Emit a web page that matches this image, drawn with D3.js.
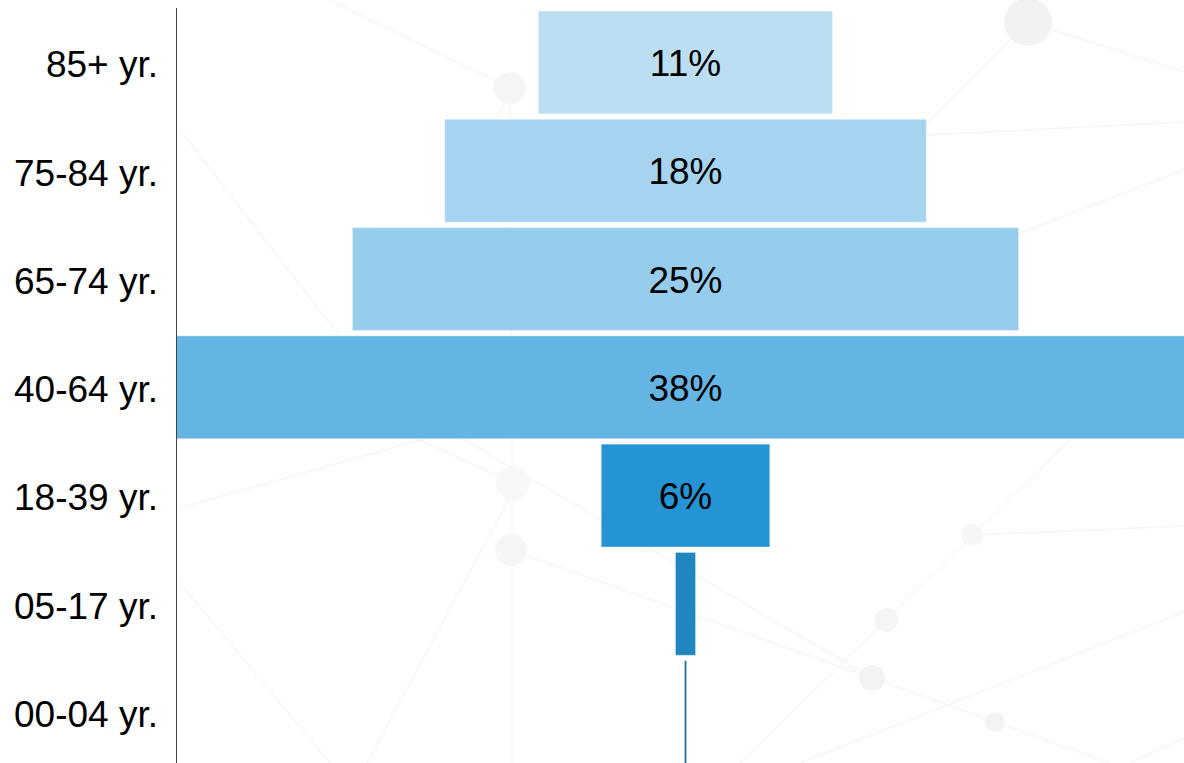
<!DOCTYPE html>
<html>
<head>
<meta charset="utf-8">
<script src="https://cdn.jsdelivr.net/npm/d3@7"></script>
<style>
  html, body { margin: 0; padding: 0; background: #fff; }
  svg { display: block; font-family: "Liberation Sans", Arial, sans-serif; }
</style>
</head>
<body>
<div id="chart"></div>
<script>
// age groups, top to bottom
var ageGroups = ["85+ yr.", "75-84 yr.", "65-74 yr.", "40-64 yr.", "18-39 yr.", "05-17 yr.", "00-04 yr."];
// share of each group in percent
var shares = [11.0, 18.0, 24.9, 38.05, 6.3, 0.75, 0.08];
var barColors = ["#bcdef3", "#a6d4f0", "#97cdec", "#64b5e4", "#2494d4", "#1f86bf", "#1b6c9c"];

var width = 1184,
    height = 763,
    axisX = 176,
    centerX = 685.5;

var data = ageGroups.map(function(g, i) {
  return { group: g, value: shares[i], color: barColors[i] };
});

var svg = d3.select("#chart").append("svg")
  .attr("width", width)
  .attr("height", height);

/*
 * Faint network pattern in the background (decoration only).
 */
var bgNodes = [[1028, 22, 24, "#f2f2f2"], [510, 88, 16, "#f5f5f5"], [513, 483, 17, "#f8f8f8"],
  [511, 550, 16, "#f6f6f6"], [972, 535, 11, "#f6f6f6"], [886, 620, 12, "#f5f5f5"],
  [872, 678, 13, "#f3f3f3"], [995, 722, 10, "#f3f3f3"]];
var bgLines = [[330, 0, 510, 88], [1028, 22, 1184, 72], [1028, 22, 860, 190],
  [927, 135, 1184, 122], [1018, 234, 1184, 170], [180, 130, 420, 440],
  [180, 583, 330, 763], [180, 508, 420, 440], [420, 440, 513, 483],
  [511, 550, 872, 678], [430, 420, 872, 678], [512, 440, 512, 763],
  [510, 497, 367, 763], [1070, 440, 740, 763], [972, 535, 1184, 526],
  [1184, 612, 800, 763], [872, 678, 995, 722], [995, 722, 1110, 763],
  [1184, 738, 1130, 763], [510, 88, 480, 160], [510, 88, 512, 440]];

var bg = svg.append("g").attr("class", "background");
bg.selectAll("line")
  .data(bgLines)
  .enter().append("line")
  .attr("x1", function(d) { return d[0]; })
  .attr("y1", function(d) { return d[1]; })
  .attr("x2", function(d) { return d[2]; })
  .attr("y2", function(d) { return d[3]; })
  .attr("stroke", "#f6f6f6")
  .attr("stroke-width", 1.5);
bg.selectAll("circle")
  .data(bgNodes)
  .enter().append("circle")
  .attr("cx", function(d) { return d[0]; })
  .attr("cy", function(d) { return d[1]; })
  .attr("r", function(d) { return d[2]; })
  .attr("fill", function(d) { return d[3]; });

/*
 * Scales.
 */
var y = d3.scaleBand()
  .domain(ageGroups)
  .range([5.6, 769])
  .padding(0.05);

var x = d3.scaleLinear()
  .domain([0, 38.05])
  .range([0, 1018]);

/*
 * Bars, centred on one vertical line.
 */
var bars = svg.append("g").attr("class", "bars");
bars.selectAll("rect")
  .data(data)
  .enter().append("rect")
  .attr("x", function(d) { return centerX - x(d.value) / 2; })
  .attr("y", function(d) { return y(d.group); })
  .attr("width", function(d) { return Math.max(x(d.value), 2); })
  .attr("height", y.bandwidth())
  .attr("fill", function(d) { return d.color; })
  .attr("stroke", "#ffffff")
  .attr("stroke-opacity", 0.35)
  .attr("stroke-width", 1);

bars.selectAll("text")
  .data(data.filter(function(d) { return d.value >= 5; }))
  .enter().append("text")
  .attr("x", centerX)
  .attr("y", function(d) { return y(d.group) + y.bandwidth() / 2; })
  .attr("dy", "0.37em")
  .attr("text-anchor", "middle")
  .attr("font-size", 37)
  .attr("fill", "#000")
  .text(function(d) { return d3.format(".0f")(d.value) + "%"; });

/*
 * Category axis on the left.
 */
var axis = svg.append("g")
  .attr("transform", "translate(" + axisX + ",0)")
  .call(d3.axisLeft(y).tickSize(0).tickPadding(18));
axis.select(".domain")
  .attr("d", "M0.5," + 8 + "V" + height)
  .attr("stroke", "#444");
axis.selectAll("text")
  .attr("font-size", 37)
  .attr("dy", "0.4em")
  .attr("font-family", "Liberation Sans, Arial, sans-serif")
  .attr("fill", "#000");
</script>
</body>
</html>
